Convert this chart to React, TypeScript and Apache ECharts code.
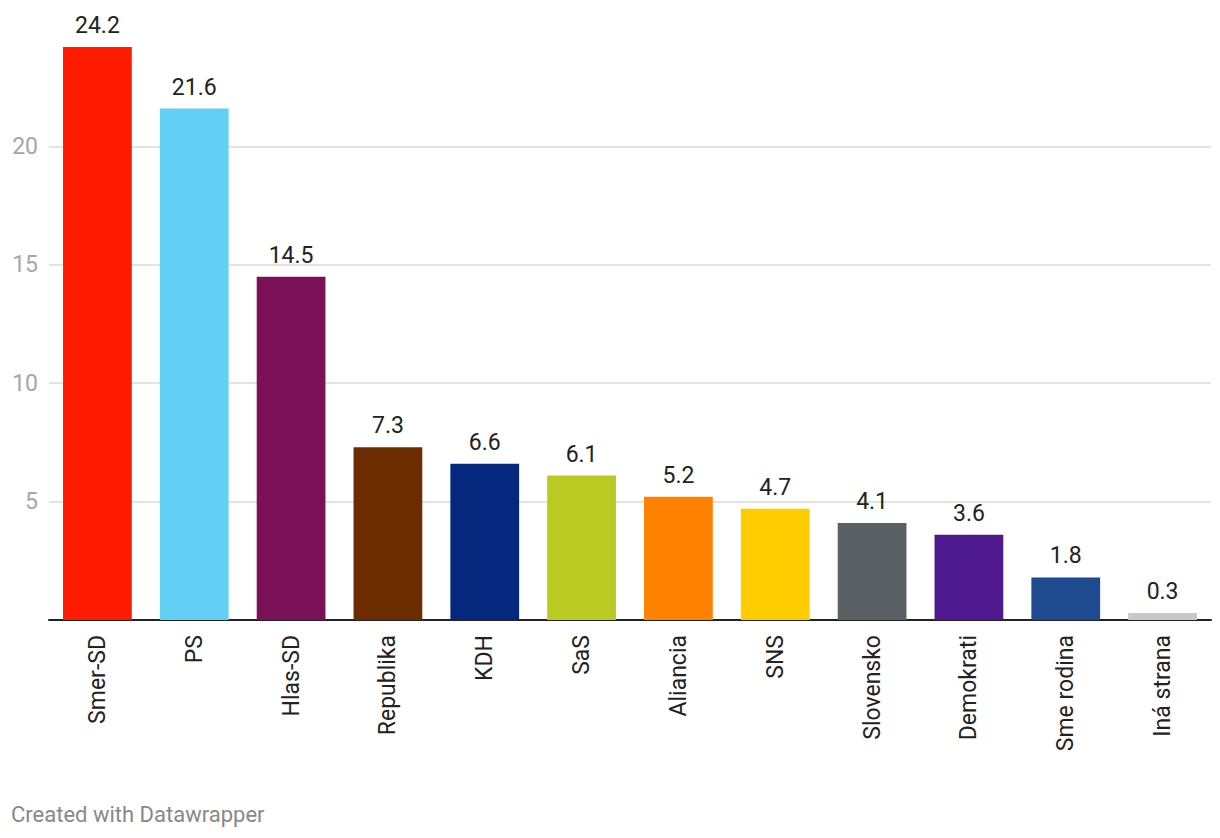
import React, { useEffect, useRef } from "react";
import * as echarts from "echarts";

const categories = ["Smer-SD", "PS", "Hlas-SD", "Republika", "KDH", "SaS", "Aliancia", "SNS", "Slovensko", "Demokrati", "Sme rodina", "Iná strana"];
const values = [24.2, 21.6, 14.5, 7.3, 6.6, 6.1, 5.2, 4.7, 4.1, 3.6, 1.8, 0.3];
const colors = ["#ff1a00", "#62cff5", "#7a1055", "#6d2c00", "#05287e", "#b9ca22", "#ff8300", "#ffcc00", "#5a6164", "#4f1a90", "#1f4a8f", "#c8c8c8"];

export default function App() {
  const ref = useRef<HTMLDivElement>(null);
  useEffect(() => {
    if (!ref.current) return;
    const chart = echarts.init(ref.current, null, { renderer: "svg" });
    const font = "Roboto, 'Noto Sans', sans-serif";
    chart.setOption({
      animation: false,
      backgroundColor: "#ffffff",
      textStyle: { fontFamily: font },
      grid: { left: 49, right: 9, top: 28, bottom: 218, containLabel: false },
      xAxis: {
        type: "category",
        data: categories,
        axisLine: { show: true, lineStyle: { color: "#222222", width: 2 } },
        axisTick: { show: false },
        axisLabel: {
          rotate: 90,
          margin: 15,
          fontSize: 23,
          color: "#222222",
          fontFamily: font,
          interval: 0,
        },
      },
      yAxis: {
        type: "value",
        min: 0,
        max: 25,
        interval: 5,
        axisLine: { show: false },
        axisTick: { show: false },
        splitLine: { show: true, showMinLine: false, showMaxLine: false, lineStyle: { color: "#e3e3e3", width: 2 } },
        axisLabel: {
          showMinLabel: false,
          showMaxLabel: false,
          fontSize: 23,
          color: "#a6a6a6",
          margin: 11,
          fontFamily: font,
        },
      },
      series: [
        {
          type: "bar",
          data: values.map((v, i) => ({ value: v, itemStyle: { color: colors[i] } })),
          barCategoryGap: "29%",
          label: {
            show: true,
            position: "top",
            distance: 10,
            fontSize: 23,
            color: "#222222",
            fontFamily: font,
            formatter: (p: any) => p.value.toFixed(1),
          },
        },
      ],
      graphic: [
        {
          type: "text",
          left: 11,
          top: 803,
          style: { text: "Created with Datawrapper", fontSize: 22, fill: "#888888", fontFamily: font },
        },
      ],
    });
    return () => chart.dispose();
  }, []);
  return <div ref={ref} style={{ position: "fixed", left: 0, top: 0, width: 1220, height: 838 }} />;
}
